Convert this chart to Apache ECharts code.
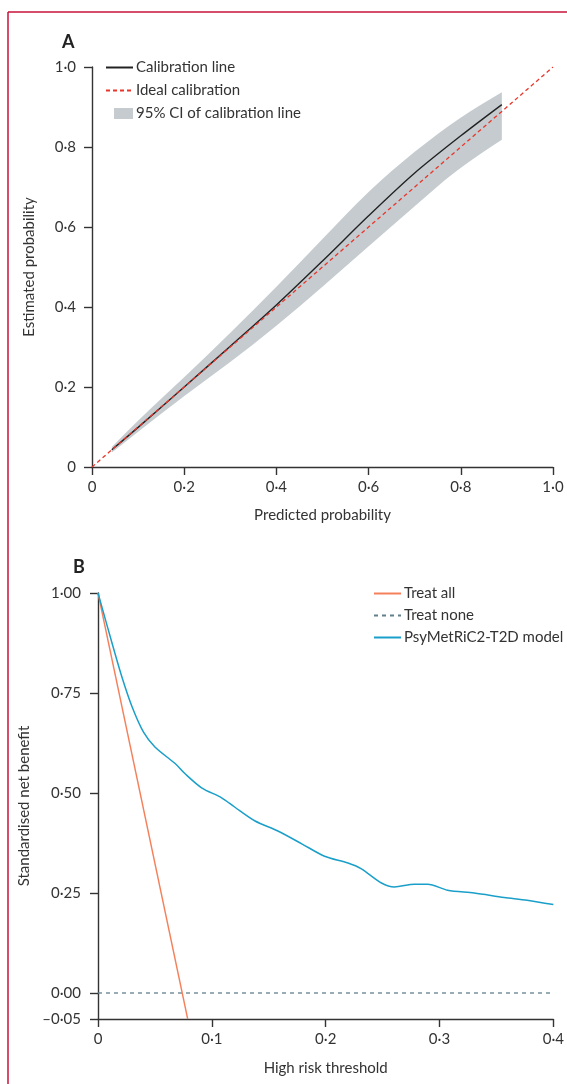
<!DOCTYPE html>
<html>
<head>
<meta charset="utf-8">
<script src="https://cdn.jsdelivr.net/npm/echarts@6/dist/echarts.min.js"></script>
<style>
  html, body { margin: 0; padding: 0; background: #fff; }
  #chart { width: 567px; height: 1084px; }
</style>
</head>
<body>
<div id="chart"></div>
<script>
// Panel A: calibration
const calibX = [0.043, 0.1, 0.2, 0.3, 0.4, 0.5, 0.6, 0.7, 0.8, 0.889]
const calibY = [0.043, 0.099, 0.2, 0.302, 0.405, 0.515, 0.628, 0.735, 0.828, 0.906]
const ciUpper = [0.05, 0.117, 0.224, 0.335, 0.45, 0.57, 0.69, 0.79, 0.875, 0.937]
const ciLower = [0.036, 0.088, 0.178, 0.262, 0.352, 0.45, 0.552, 0.652, 0.752, 0.818]
const idealX = [0, 1]
const idealY = [0, 1]

// Panel B: decision curve
const modelX = [0, 0.0123, 0.021, 0.03, 0.04, 0.05, 0.068, 0.0765, 0.091, 0.1086, 0.12, 0.138, 0.158,
  0.179, 0.199, 0.2196, 0.231, 0.249, 0.2604, 0.278, 0.2896, 0.307, 0.3305, 0.3568, 0.377, 0.4]
const modelY = [1.0, 0.875, 0.79, 0.715, 0.652, 0.615, 0.573, 0.548, 0.513, 0.488, 0.465, 0.43, 0.405,
  0.373, 0.342, 0.325, 0.311, 0.275, 0.265, 0.272, 0.272, 0.257, 0.25, 0.239, 0.232, 0.221]
const treatAllX = [0, 0.0788]
const treatAllY = [1.0, -0.065]
const treatNoneX = [0, 0.4]
const treatNoneY = [0, 0]
const bYTicks = [-0.065, 0, 0.25, 0.5, 0.75, 1]

const FONT = 'Lato'
const TXT = '#333'
const CI_GREY = '#c5cbce'
const pairs = (xs, ys) => xs.map((x, i) => [x, ys[i]])
const dot = (s) => s.replace('.', '\u00b7')

const axisLine = { onZero: false, lineStyle: { color: '#333', width: 1.4 } }
const axisTick = { length: 8, lineStyle: { color: '#333', width: 1.4 } }
const labelStyle = { color: TXT, fontFamily: FONT, fontSize: 15 }
const nameStyle = { color: TXT, fontFamily: FONT, fontSize: 15 }
const legendText = { color: TXT, fontFamily: FONT, fontSize: 15, padding: [0, 0, 0, -2] }

// smooth path through pixel points (quadratic curves via midpoints)
const smoothSeg = (pts) => {
  let d = ''
  for (let i = 1; i < pts.length - 1; i++) {
    const mx = (pts[i][0] + pts[i + 1][0]) / 2
    const my = (pts[i][1] + pts[i + 1][1]) / 2
    d += `Q${pts[i][0]},${pts[i][1]} ${mx},${my} `
  }
  const last = pts[pts.length - 1]
  return d + `L${last[0]},${last[1]} `
}

const renderBand = (params, api) => {
  if (params.dataIndex !== 0) return
  const top = calibX.map((x, i) => api.coord([x, ciUpper[i]]))
  const bottom = calibX.map((x, i) => api.coord([x, ciLower[i]])).reverse()
  const d = `M${top[0][0]},${top[0][1]} ` + smoothSeg(top) +
    `L${bottom[0][0]},${bottom[0][1]} ` + smoothSeg(bottom) + 'Z'
  return { type: 'path', shape: { pathData: d }, style: { fill: CI_GREY } }
}

const chart = echarts.init(document.getElementById('chart'), null, { renderer: 'canvas' })

chart.setOption({
  animation: false,
  backgroundColor: '#fff',
  graphic: [
    { type: 'line', shape: { x1: 8, y1: 12, x2: 567, y2: 12 }, style: { stroke: '#c8103a', lineWidth: 1.5 } },
    { type: 'line', shape: { x1: 8, y1: 12, x2: 8, y2: 1084 }, style: { stroke: '#c8103a', lineWidth: 1.5 } },
    { type: 'text', left: 62, top: 33, style: { text: 'A', fontFamily: FONT, fontWeight: 'bold', fontSize: 18, fill: '#222' } },
    { type: 'text', left: 73, top: 558, style: { text: 'B', fontFamily: FONT, fontWeight: 'bold', fontSize: 18, fill: '#222' } },
  ],
  legend: [
    {
      left: 105, top: 60, padding: 0, orient: 'vertical', itemWidth: 27, itemHeight: 14, itemGap: 8,
      itemStyle: { opacity: 0 },
      textStyle: legendText,
      data: [
        { name: 'Calibration line' },
        { name: 'Ideal calibration' },
        {
          name: '95% CI of calibration line',
          icon: 'path://M0,0L0,0M8,1.5H27V12.5H8ZM27,14L27,14',
          itemStyle: { opacity: 1, color: CI_GREY },
        },
      ],
    },
    {
      left: 373, top: 586, padding: 0, orient: 'vertical', itemWidth: 27, itemHeight: 14, itemGap: 7,
      itemStyle: { opacity: 0 },
      textStyle: legendText,
      data: [{ name: 'Treat all' }, { name: 'Treat none' }, { name: 'PsyMetRiC2-T2D model' }],
    },
  ],
  grid: [
    { left: 92, top: 67, width: 461, height: 400 },
    { left: 98, top: 593, width: 456, height: 426 },
  ],
  xAxis: [
    {
      gridIndex: 0, type: 'value', min: 0, max: 1, interval: 0.2,
      name: 'Predicted probability', nameLocation: 'middle', nameGap: 41, nameTextStyle: nameStyle,
      axisLine, axisTick, splitLine: { show: false },
      axisLabel: { ...labelStyle, margin: 13, formatter: (v) => (v === 0 ? '0' : dot(v.toFixed(1))) },
    },
    {
      gridIndex: 1, type: 'value', min: 0, max: 0.4, interval: 0.1,
      name: 'High risk threshold', nameLocation: 'middle', nameGap: 42, nameTextStyle: nameStyle,
      axisLine, axisTick, splitLine: { show: false },
      axisLabel: { ...labelStyle, margin: 13, formatter: (v) => (v === 0 ? '0' : dot(v.toFixed(1))) },
    },
  ],
  yAxis: [
    {
      gridIndex: 0, type: 'value', min: 0, max: 1, interval: 0.2,
      name: 'Estimated probability', nameLocation: 'middle', nameGap: 55, nameTextStyle: nameStyle,
      axisLine: { show: true, ...axisLine }, axisTick: { show: true, ...axisTick }, splitLine: { show: false },
      axisLabel: { ...labelStyle, margin: 16, formatter: (v) => (v === 0 ? '0' : dot(v.toFixed(1))) },
    },
    {
      gridIndex: 1, type: 'value', min: -0.065, max: 1,
      name: 'Standardised net benefit', nameLocation: 'middle', nameGap: 62, nameTextStyle: nameStyle,
      axisLine: { show: true, ...axisLine },
      axisTick: { show: true, ...axisTick, customValues: bYTicks },
      splitLine: { show: false },
      axisLabel: {
        ...labelStyle, margin: 17, customValues: bYTicks,
        formatter: (v) => (v < 0 ? '\u20130\u00b705' : dot(v.toFixed(2))),
      },
    },
  ],
  series: [
    {
      name: '95% CI of calibration line', type: 'custom', xAxisIndex: 0, yAxisIndex: 0,
      itemStyle: { color: CI_GREY },
      data: [[calibX[0], ciLower[0]]],
      renderItem: renderBand,
      z: 1,
    },
    {
      name: 'Calibration line', type: 'line', xAxisIndex: 0, yAxisIndex: 0, smooth: 0.3,
      symbol: 'none', data: pairs(calibX, calibY),
      lineStyle: { color: '#222', width: 1.4 }, itemStyle: { color: '#222' }, z: 3,
    },
    {
      name: 'Ideal calibration', type: 'line', xAxisIndex: 0, yAxisIndex: 0,
      symbol: 'none', data: pairs(idealX, idealY),
      lineStyle: { color: '#e8362c', width: 1.3, type: [4, 3] }, itemStyle: { color: '#e8362c' }, z: 4,
    },
    {
      name: 'Treat all', type: 'line', xAxisIndex: 1, yAxisIndex: 1,
      symbol: 'none', data: pairs(treatAllX, treatAllY),
      lineStyle: { color: '#f4805a', width: 1.4 }, itemStyle: { color: '#f4805a' }, z: 3,
    },
    {
      name: 'Treat none', type: 'line', xAxisIndex: 1, yAxisIndex: 1,
      symbol: 'none', data: pairs(treatNoneX, treatNoneY),
      lineStyle: { color: '#62808c', width: 1.3, type: [4, 4] }, itemStyle: { color: '#62808c' }, z: 2,
    },
    {
      name: 'PsyMetRiC2-T2D model', type: 'line', xAxisIndex: 1, yAxisIndex: 1, smooth: 0.3,
      symbol: 'none', data: pairs(modelX, modelY),
      lineStyle: { color: '#1a9fc9', width: 1.5 }, itemStyle: { color: '#1a9fc9' }, z: 4,
    },
  ],
})
</script>
</body>
</html>
